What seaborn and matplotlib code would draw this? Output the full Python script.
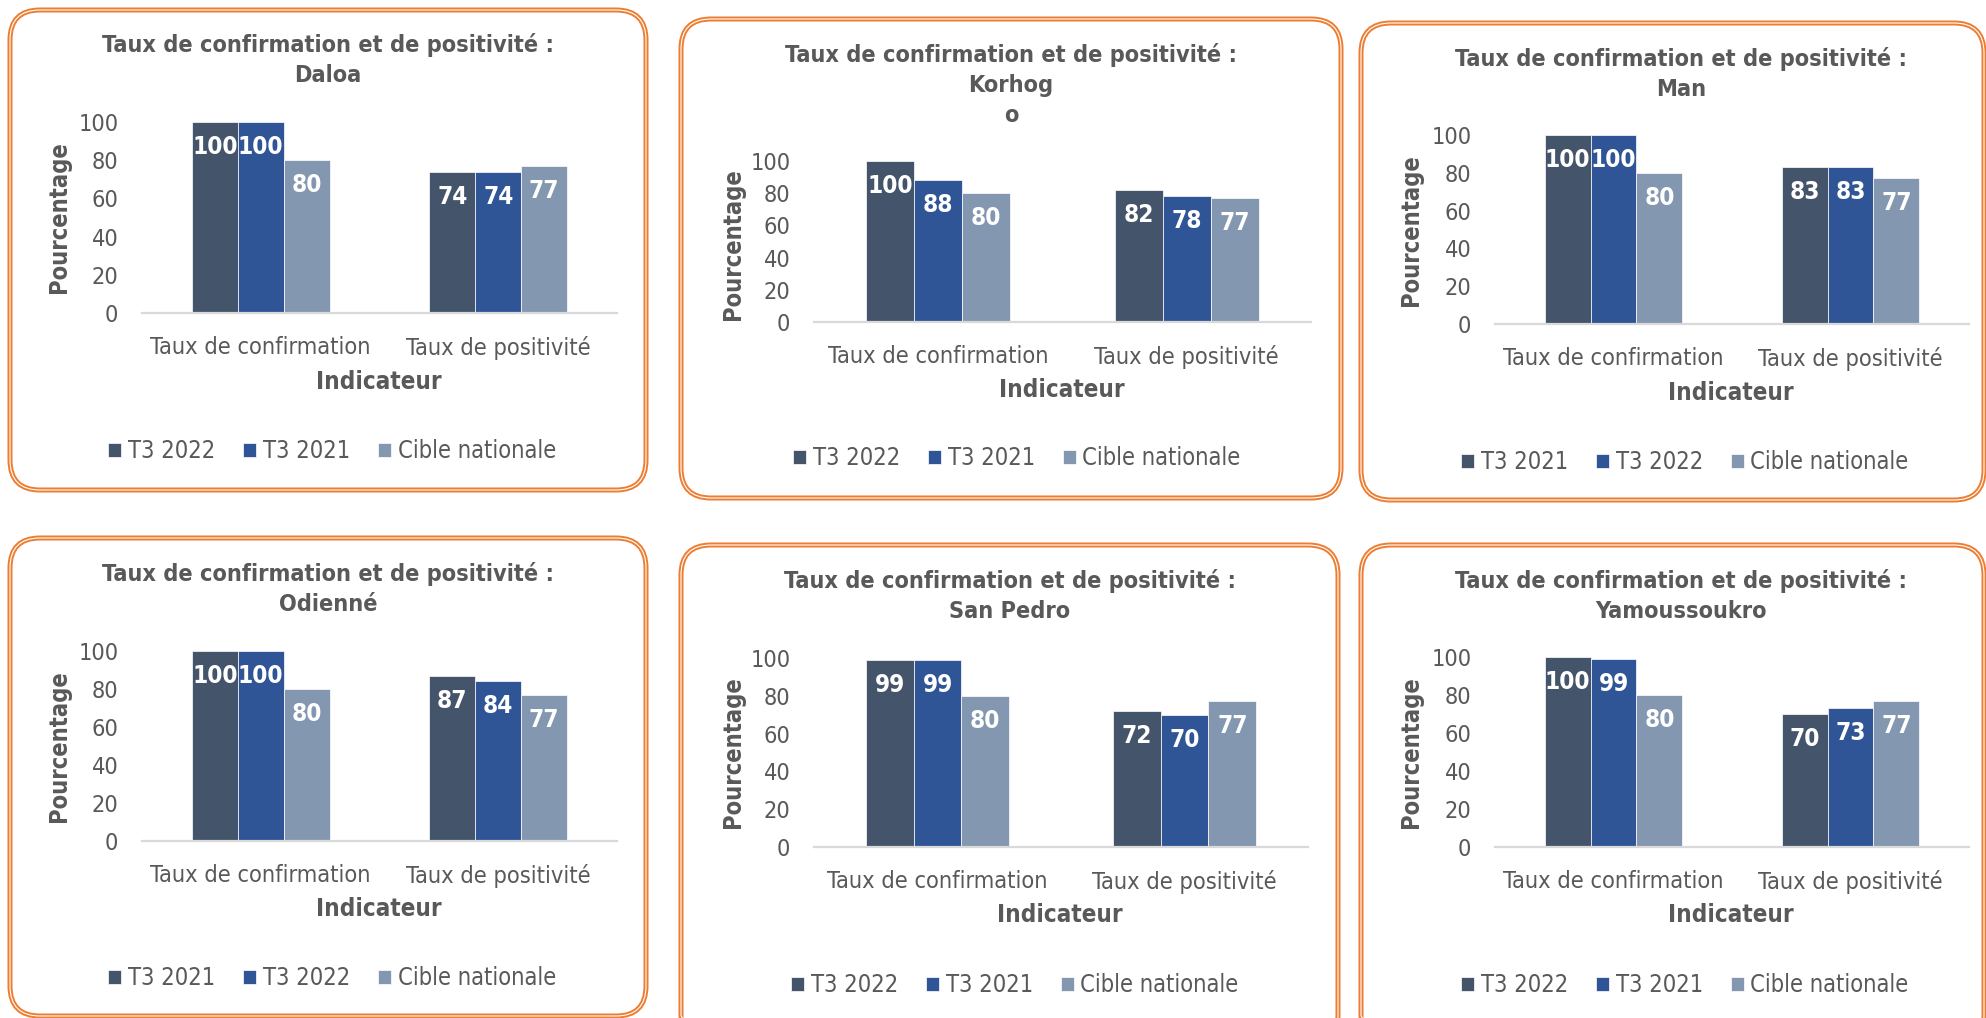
import pandas as pd
import matplotlib
matplotlib.use("Agg")
import matplotlib.pyplot as plt
import seaborn as sns
from matplotlib.patches import FancyBboxPatch

# --- données ---
categories = ["Taux de confirmation", "Taux de positivité"]
series_a = ["T3 2022", "T3 2021", "Cible nationale"]
series_b = ["T3 2021", "T3 2022", "Cible nationale"]

regions = ["Daloa", "Korhog\no", "Man", "Odienné", "San Pedro", "Yamoussoukro"]
region_series = [series_a, series_a, series_b, series_b, series_a, series_a]

# une ligne par série (dans l'ordre de la légende), une colonne par indicateur
daloa = [[100, 74], [100, 74], [80, 77]]
korhogo = [[100, 82], [88, 78], [80, 77]]
man = [[100, 83], [100, 83], [80, 77]]
odienne = [[100, 87], [100, 84], [80, 77]]
san_pedro = [[99, 72], [99, 70], [80, 77]]
yamoussoukro = [[100, 70], [99, 73], [80, 77]]
region_values = [daloa, korhogo, man, odienne, san_pedro, yamoussoukro]

colors = ["#44546A", "#2F5597", "#8497B0"]
grey = "#595959"
orange = "#ED7D31"

# --- mise en page (pixels) ---
W, H = 1986, 1018
layout = [
    dict(ax=(142, 122, 475, 191), ylab=(59, 217), xlab=(379, 382), title=(328, 60), leg=(332, 451), box=(10, 10, 646, 490)),
    dict(ax=(814, 161, 497, 161), ylab=(733, 244), xlab=(1062, 390), title=(1011, 85), leg=(1017, 458), box=(681, 19, 1341, 498)),
    dict(ax=(1495, 135, 474, 189), ylab=(1411, 230), xlab=(1731, 393), title=(1681, 74), leg=(1685, 462), box=(1361, 23, 1984, 500)),
    dict(ax=(142, 651, 475, 190), ylab=(59, 746), xlab=(379, 909), title=(328, 589), leg=(332, 978), box=(10, 538, 646, 1016)),
    dict(ax=(814, 658, 494, 189), ylab=(733, 752), xlab=(1060, 915), title=(1010, 596), leg=(1015, 985), box=(681, 545, 1338, 1045)),
    dict(ax=(1495, 657, 474, 190), ylab=(1411, 752), xlab=(1731, 915), title=(1681, 596), leg=(1685, 985), box=(1361, 545, 1984, 1045)),
]

sns.set_theme(style="white")
plt.rcParams["font.family"] = ["DejaVu Sans"]
plt.rcParams["font.stretch"] = "condensed"

fig = plt.figure(figsize=(W / 100, H / 100), dpi=100)
bg = fig.add_axes([0, 0, 1, 1], zorder=0)
bg.set_xlim(0, W)
bg.set_ylim(H, 0)
bg.axis("off")

for region, series, values, lay in zip(regions, region_series, region_values, layout):
    x0, y0, x1, y1 = lay["box"]
    bg.add_patch(FancyBboxPatch((x0, y0), x1 - x0, y1 - y0, boxstyle="round,pad=0,rounding_size=30",
                                fc="white", ec=orange, lw=3.6, clip_on=False))
    bg.add_patch(FancyBboxPatch((x0, y0), x1 - x0, y1 - y0, boxstyle="round,pad=0,rounding_size=30",
                                fc="none", ec="white", lw=0.8, clip_on=False))
    bg.text(lay["title"][0], lay["title"][1], "Taux de confirmation et de positivité :\n" + region,
            ha="center", va="center", fontsize=16.8, fontweight="bold", color=grey, linespacing=1.4)

    rows = []
    for s, vals in zip(series, values):
        for c, v in zip(categories, vals):
            rows.append({"Indicateur": c, "Pourcentage": v, "Série": s})
    df = pd.DataFrame(rows)

    l, t, w, h = lay["ax"]
    ax = fig.add_axes([l / W, 1 - (t + h) / H, w / W, h / H], zorder=2)
    ax.set_facecolor("none")
    sns.barplot(data=df, x="Indicateur", y="Pourcentage", hue="Série", order=categories,
                hue_order=series, palette=colors, saturation=1, width=0.58, errorbar=None,
                edgecolor="white", linewidth=0.5, ax=ax)
    ax.set_xlim(-0.5, 1.5)
    ax.set_ylim(0, 100)
    ax.set_yticks(range(0, 101, 20))
    for sp in ["top", "right", "left"]:
        ax.spines[sp].set_visible(False)
    ax.spines["bottom"].set_color("#D9D9D9")
    ax.spines["bottom"].set_linewidth(1.6)
    ax.tick_params(axis="x", length=0, pad=16.5, labelsize=16.9, labelcolor=grey)
    ax.tick_params(axis="y", length=0, pad=17, labelsize=16.8, labelcolor=grey)

    for cont in ax.containers:
        for bar in cont:
            hv = bar.get_height()
            ax.annotate(f"{hv:.0f}", (bar.get_x() + bar.get_width() / 2, hv), xytext=(0, -18),
                        textcoords="offset points", ha="center", va="center", color="white",
                        fontsize=17.5, fontweight="bold")

    ax.set_xlabel("Indicateur", fontsize=17.4, fontweight="bold", color=grey)
    ax.xaxis.set_label_coords(*lay["xlab"], transform=bg.transData)
    ax.xaxis.label.set_va("center")
    ax.set_ylabel("Pourcentage", fontsize=17, fontweight="bold", color=grey)
    ax.yaxis.set_label_coords(*lay["ylab"], transform=bg.transData)
    ax.yaxis.label.set_va("center")

    sns.move_legend(ax, "center", bbox_to_anchor=lay["leg"], bbox_transform=bg.transData,
                    ncol=3, title=None, frameon=False, fontsize=17, labelcolor=grey,
                    handlelength=0.55, handleheight=0.55, handletextpad=0.27, columnspacing=1.2)

fig.savefig("out.png", dpi=100)
